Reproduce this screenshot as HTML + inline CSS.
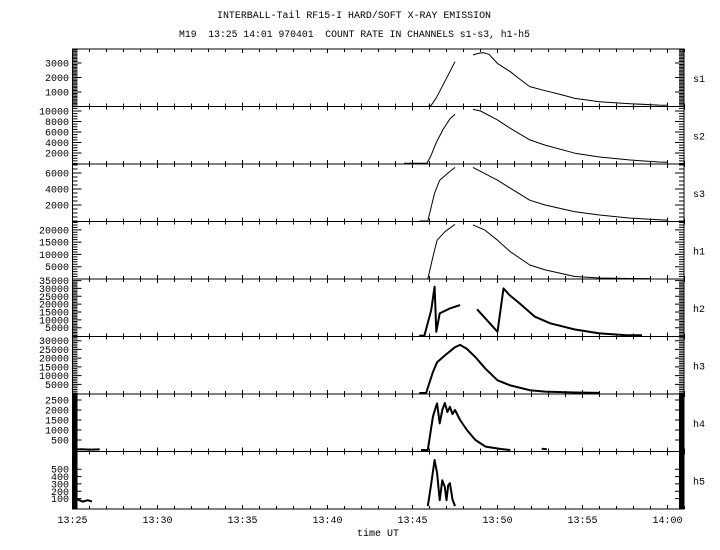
<!DOCTYPE html>
<html><head><meta charset="utf-8">
<style>
html,body{margin:0;padding:0;background:#fff;}
svg{display:block;}
text{font-family:"Liberation Mono","DejaVu Sans Mono",monospace;font-size:10px;fill:#000;}
</style></head>
<body>
<svg id="chart" width="720" height="550" viewBox="0 0 720 550" xmlns="http://www.w3.org/2000/svg">
  <rect width="720" height="550" fill="#fff"/>
  <text x="354" y="18" text-anchor="middle" textLength="274" lengthAdjust="spacingAndGlyphs">INTERBALL-Tail RF15-I HARD/SOFT X-RAY EMISSION</text>
  <text x="354.5" y="37" text-anchor="middle" textLength="351" lengthAdjust="spacingAndGlyphs" style="white-space:pre" xml:space="preserve">M19  13:25 14:01 970401  COUNT RATE IN CHANNELS s1-s3, h1-h5</text>
  <text x="378" y="536" text-anchor="middle">time UT</text>
  <g id="plots"></g>
</svg>
<script>
// ---- data (t = minutes since 13:25) ----
const channelNames = ["s1","s2","s3","h1","h2","h3","h4","h5"];
const s1T = [20.9,21.1,21.4,21.8,22.2,22.5,null,23.56,23.8,24.15,24.5,25.0,25.75,26.3,26.9,27.8,28.6,29.55,31.0,32.8,34.5,35.0];
const s1V = [0,80,600,1500,2400,3100,null,3550,3650,3720,3600,2970,2400,1900,1370,1090,860,560,330,190,100,90];
const s2T = [19.5,20.85,21.1,21.4,21.8,22.2,22.5,null,23.56,24.0,25.0,25.75,26.9,27.8,29.55,31.0,32.8,34.5,35.0];
const s2V = [50,80,1600,4000,6500,8500,9400,null,10300,10000,8300,6700,4500,3500,1950,1240,670,290,250];
const s3T = [20.4,20.9,21.3,21.6,22.2,22.5,null,23.56,25.0,25.75,26.9,27.8,29.55,31.0,32.8,34.5,35.0];
const s3V = [0,0,3500,5100,6200,6700,null,6700,5100,4100,2600,2000,1160,750,370,160,120];
const h1T = [20.9,21.2,21.45,21.9,22.5,null,23.56,24.26,25.0,25.75,26.9,27.8,29.55,31.0,32.8,34.0];
const h1V = [0,9000,15800,19200,22200,null,22000,19900,15800,11100,5700,3700,1000,400,200,150];
const h2T = [20.4,20.7,21.1,21.3,21.4,21.6,22.2,22.8,null,23.8,25.0,25.35,25.7,26.3,27.2,28.1,29.55,31.0,32.5,33.5];
const h2V = [0,0,16200,31100,2400,14100,17300,19400,null,16700,2400,30000,25800,20500,12000,7800,3900,1400,300,200];
const h3T = [20.4,20.8,21.2,21.45,21.9,22.5,22.8,23.2,23.7,24.3,25.0,25.75,26.9,27.8,29.55,31.0];
const h3V = [0,0,12000,17700,21500,26250,27600,25300,20600,13900,7300,4400,1600,850,300,100];
const h4T = [0.0,0.5,1.0,1.6,null,20.5,20.9,21.2,21.35,21.45,21.6,21.75,21.9,22.05,22.2,22.35,22.5,22.8,23.2,23.7,24.3,25.2,25.75,null,27.6,27.9];
const h4V = [20,40,20,30,null,0,0,1660,2100,2330,1330,2000,2350,1900,2160,1800,2000,1500,1000,500,170,50,0,null,60,40];
const h5T = [0.0,0.3,0.6,0.9,1.15,null,20.9,21.1,21.3,21.45,21.6,21.75,21.9,22.0,22.1,22.2,22.35,22.5];
const h5V = [70,90,60,80,60,null,0,300,625,445,80,350,260,80,280,310,90,0];
const seriesT = [s1T,s2T,s3T,h1T,h2T,h3T,h4T,h5T];
const seriesV = [s1V,s2V,s3V,h1V,h2V,h3V,h4V,h5V];
const tickLabels = [
  ["1000","2000","3000"],
  ["2000","4000","6000","8000","10000"],
  ["2000","4000","6000"],
  ["5000","10000","15000","20000"],
  ["5000","10000","15000","20000","25000","30000","35000"],
  ["5000","10000","15000","20000","25000","30000"],
  ["500","1000","1500","2000","2500"],
  ["100","200","300","400","500"]
];
const xTickLabels = ["13:25","13:30","13:35","13:40","13:45","13:50","13:55","14:00"];
// ---- axis definitions ----
const panelBottomVal = [0,-100,-60,0,-580,-550,-75,-40];
const panelTopVal = [3966,10860,7125,23400,36000,32400,2800,740];
const minorStep = [100,500,500,1000,1000,1000,50,10];
const strokeW = [1,1,1,1,2,2,2,2];

const NS = "http://www.w3.org/2000/svg";
const g = document.getElementById("plots");
const X0 = 72.5, PXMIN = 17.0, XR = 684;
const TOP0 = 49, PH = 57.5;
function xs(t){ return X0 + PXMIN*t; }
function mk(tag, attrs, parent){
  const e = document.createElementNS(NS, tag);
  for (const k in attrs) e.setAttribute(k, attrs[k]);
  (parent||g).appendChild(e); return e;
}
let ticksD = "";
for (let p=0;p<8;p++){
  const top = TOP0 + p*PH, bot = top + PH;
  const lo = panelBottomVal[p], hi = panelTopVal[p];
  const ys = v => bot - (v-lo)/(hi-lo)*PH;
  const pg = mk("g",{});
  
  
  const fr = mk("rect",{x:X0,y:top,width:XR-X0,height:PH,fill:"none",stroke:"#000","stroke-width":1},pg);
  
  
  for (let v=Math.ceil(lo/minorStep[p])*minorStep[p]; v<=hi; v+=minorStep[p]){
    const y = ys(v);
    if (y<top||y>bot) continue;
    ticksD += `M${X0} ${y}h5M${XR} ${y}h-5`;
  }
  tickLabels[p].forEach(lab=>{
    const y = ys(parseFloat(lab));
    ticksD += `M${X0} ${y}h9M${XR} ${y}h-9`;
    const t = mk("text",{x:69,y:y+3.5,"text-anchor":"end"},pg);
    t.textContent = lab;
    
    
  });
  for (let m=0;m<=36;m++){
    const x = xs(m); const L = (m%5===0)?4:3;
    ticksD += `M${x} ${top}v${L}M${x} ${bot}v${-L}`;
  }
  const cl = mk("text",{x:693,y:top+PH/2+4},pg);
  cl.textContent = channelNames[p];
  
  
  const T = seriesT[p], V = seriesV[p];
  let d = "", pen = false;
  for (let i=0;i<T.length;i++){
    if (T[i]===null || V[i]===null){ pen=false; continue; }
    d += (pen?"L":"M") + xs(T[i]).toFixed(1) + " " + ys(V[i]).toFixed(1);
    pen = true;
  }
  const ln = mk("path",{d:d,fill:"none",stroke:"#000","stroke-width":strokeW[p],"stroke-linejoin":"round"},pg);
  
  
}
const tk = mk("path",{d:ticksD,stroke:"#000","stroke-width":1,fill:"none"});


xTickLabels.forEach((lab,i)=>{
  const t = mk("text",{x:xs(i*5),y:523,"text-anchor":"middle"});
  t.textContent = lab;
  
  
});
</script>
</body></html>
